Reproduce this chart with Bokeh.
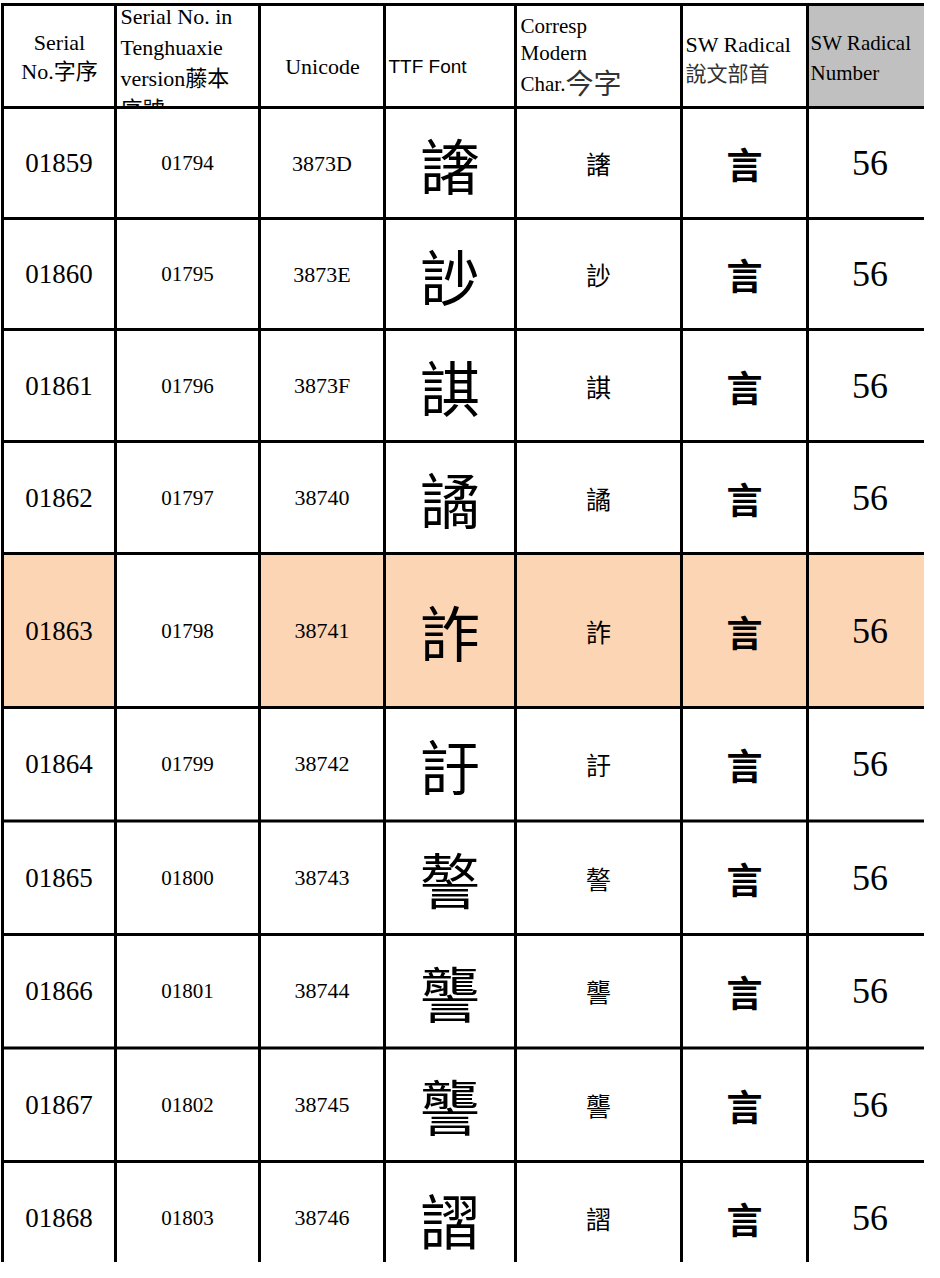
from bokeh.plotting import figure
from bokeh.models import Range1d, ColumnDataSource
from bokeh.core.properties import value
from bokeh.embed import file_html
from bokeh.resources import INLINE

# ---------------- data ----------------
serial_no = ["01859", "01860", "01861", "01862", "01863",
             "01864", "01865", "01866", "01867", "01868"]
tenghuaxie_no = ["01794", "01795", "01796", "01797", "01798",
                 "01799", "01800", "01801", "01802", "01803"]
unicode_hex = ["3873D", "3873E", "3873F", "38740", "38741",
               "38742", "38743", "38744", "38745", "38746"]
modern_char = ["譇", "訬", "諆", "譎", "詐", "訏", "謷", "讋", "讋", "謵"]
# seal-script glyphs (TTF font column) shown through their modern equivalents
ttf_glyph = ["譇", "訬", "諆", "譎", "詐", "訏", "謷", "讋", "讋", "謵"]
sw_radical = ["言", "言", "言", "言", "言", "言", "言", "言", "言", "言"]
sw_radical_number = ["56", "56", "56", "56", "56", "56", "56", "56", "56", "56"]
highlighted = [False, False, False, False, True, False, False, False, False, False]

# ---------------- layout (page pixels) ----------------
W, H = 924, 1262
OX, OY = 8, 8
col_edges = [10, 123, 267, 392, 523, 689, 815, 940]
row_edges = [12, 115, 226, 337, 449, 561, 715, 828.5, 942, 1055.5, 1169, 1282]
PEACH = "#FCD5B4"
GRAY = "#C0C0C0"
SERIF = value("Liberation Serif, Noto Sans CJK TC")
CJK = value("Noto Sans CJK TC")
SANS = value("Liberation Sans")

fx = lambda v: v - OX
fy = lambda v: v - OY

p = figure(width=W, height=H, output_backend="svg", toolbar_location=None,
           x_range=Range1d(0, W), y_range=Range1d(H, 0),
           min_border=0, outline_line_color=None, background_fill_color="white",
           border_fill_color="white")
p.xaxis.visible = False
p.yaxis.visible = False
p.grid.visible = False

ncol = len(col_edges) - 1
# --- header cells ---
hl, hr, ht, hb, hc = [], [], [], [], []
for c in range(ncol):
    hl.append(fx(col_edges[c]))
    hr.append(fx(col_edges[c + 1]) if c < ncol - 1 else W)
    ht.append(fy(row_edges[0]))
    hb.append(fy(row_edges[1]))
    hc.append(GRAY if c == ncol - 1 else "white")
p.quad(left=hl, right=hr, top=ht, bottom=hb, fill_color=hc, line_color=None)

# --- header texts ---
def htext(items, align, font, size, color="black"):
    xs = [fx(i[1]) for i in items]
    ys = [fy(i[2]) for i in items]
    ts = [i[0] for i in items]
    p.text(x=xs, y=ys, text=ts, text_align=align, text_baseline="middle",
           text_font=font, text_font_size=size, text_color=color)

htext([("Serial", 67, 50), ("No.字序", 67, 79)], "center", SERIF, "22px")
htext([("Serial No. in", 128, 24), ("Tenghuaxie", 128, 55),
       ("version藤本", 128, 86), ("序號", 128, 117)], "left", SERIF, "22px")
htext([("Unicode", 330, 74)], "center", SERIF, "22px")
htext([("TTF Font", 396, 74)], "left", SANS, "19px")
htext([("Corresp", 528, 33), ("Modern", 528, 60), ("Char.", 528, 91)], "left", SERIF, "21px")
htext([("今字", 573, 89)], "left", CJK, "28px", "#333333")
htext([("SW Radical", 693, 52)], "left", SERIF, "22px")
htext([("說文部首", 693, 79)], "left", CJK, "21px", "#333333")
htext([("SW Radical", 818, 50), ("Number", 818, 80)], "left", SERIF, "21px")

# --- body cells ---
bl, br, bt, bb, bc = [], [], [], [], []
for r in range(len(serial_no)):
    for c in range(ncol):
        bl.append(fx(col_edges[c]))
        br.append(fx(col_edges[c + 1]) if c < ncol - 1 else W)
        bt.append(fy(row_edges[r + 1]))
        bb.append(fy(row_edges[r + 2]))
        bc.append(PEACH if (highlighted[r] and c != 1) else "white")
p.quad(left=bl, right=br, top=bt, bottom=bb, fill_color=bc, line_color=None)

# --- body texts ---
ycen = [fy((row_edges[r + 1] + row_edges[r + 2]) / 2) for r in range(len(serial_no))]
xcen = [fx((col_edges[c] + col_edges[c + 1]) / 2) for c in range(ncol)]
src = ColumnDataSource(dict(y=ycen, serial=serial_no, teng=tenghuaxie_no,
                            uni=unicode_hex, glyph=ttf_glyph, modern=modern_char,
                            rad=sw_radical, num=sw_radical_number))

def btext(col, field, font, size, style="normal", dy=0):
    p.text(x=xcen[col], y="y", text=field, source=src, text_align="center",
           text_baseline="middle", text_font=font, text_font_size=size,
           text_font_style=style, text_color="black", y_offset=dy)

btext(0, "serial", SERIF, "27px")
btext(1, "teng", SERIF, "21px")
btext(2, "uni", SERIF, "22px")
btext(3, "glyph", CJK, "60px")
btext(4, "modern", CJK, "25px")
btext(5, "rad", CJK, "36px", "bold")
btext(6, "num", SERIF, "36px")

# --- grid lines ---
h_y = [fy(v) for v in row_edges]
p.segment(x0=[fx(col_edges[0])] * len(h_y), x1=[W] * len(h_y), y0=h_y, y1=h_y,
          line_color="black", line_width=3, line_cap="square")
v_x = [fx(v) for v in col_edges[:-1]]
p.segment(x0=v_x, x1=v_x, y0=[fy(row_edges[0])] * len(v_x), y1=[H + 5] * len(v_x),
          line_color="black", line_width=3, line_cap="square")

open("out.html", "w").write(file_html(p, INLINE))
